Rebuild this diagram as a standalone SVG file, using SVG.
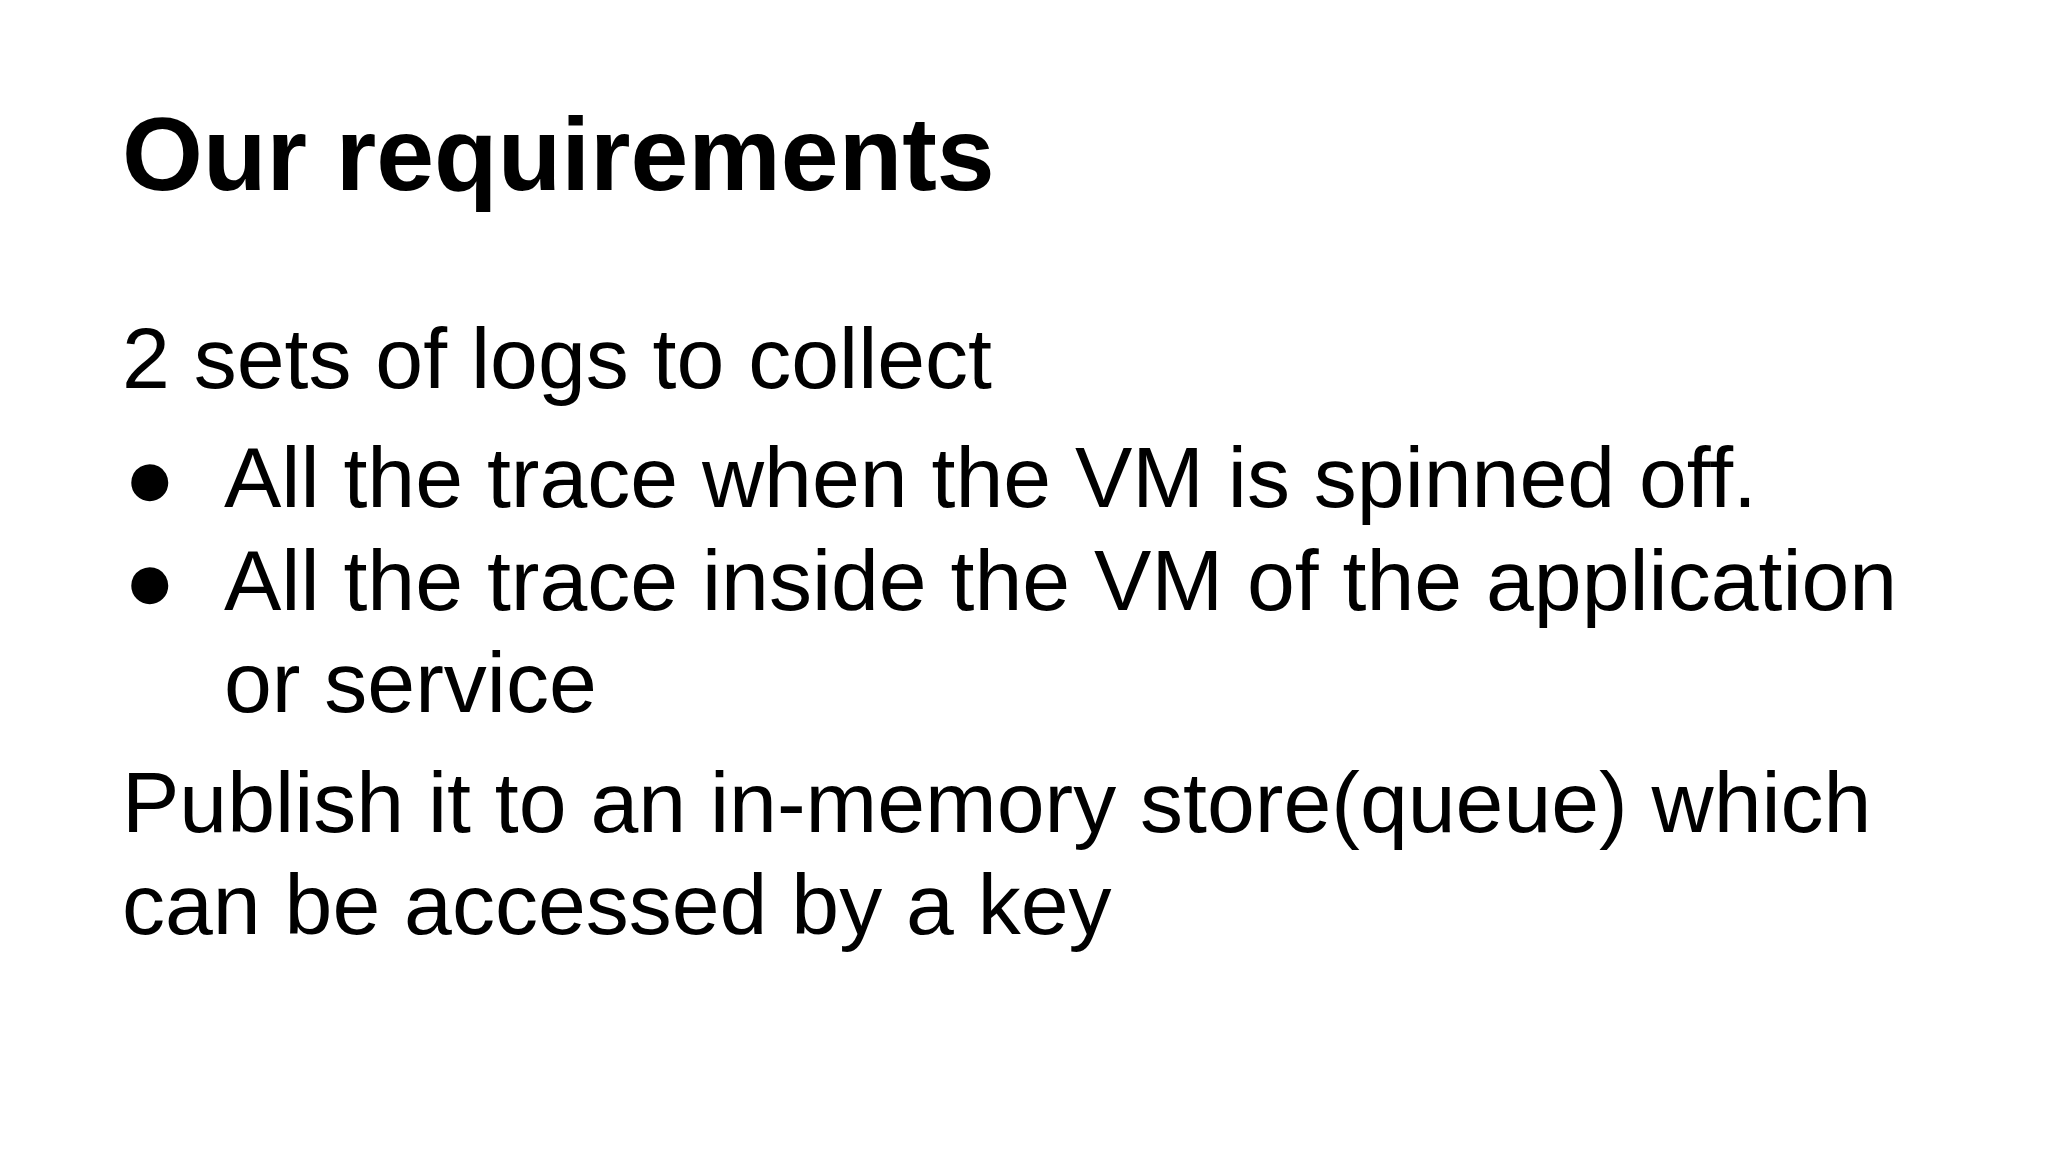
<svg xmlns="http://www.w3.org/2000/svg" width="2048" height="1152" viewBox="0 0 2048 1152">
<style>
.t{font-family:"Liberation Sans",Arial,sans-serif;fill:#000}
.h{font-size:104px;font-weight:bold}
.b{font-size:86px}
</style>
<rect width="2048" height="1152" fill="#fff"/>
<g id="title"><text class="t h" x="122" y="190">Our requirements</text></g>
<g id="body">
<text class="t b" x="122" y="388">2 sets of logs to collect</text>
<text class="t b" x="124" y="507">●</text>
<text class="t b" x="224" y="507">All the trace when the VM is spinned off.</text>
<text class="t b" x="124" y="610">●</text>
<text class="t b" x="224" y="610">All the trace inside the VM of the application</text>
<text class="t b" x="224" y="712">or service</text>
<text class="t b" x="122" y="832">Publish it to an in-memory store(queue) which</text>
<text class="t b" x="122" y="934">can be accessed by a key</text>
</g>
</svg>
